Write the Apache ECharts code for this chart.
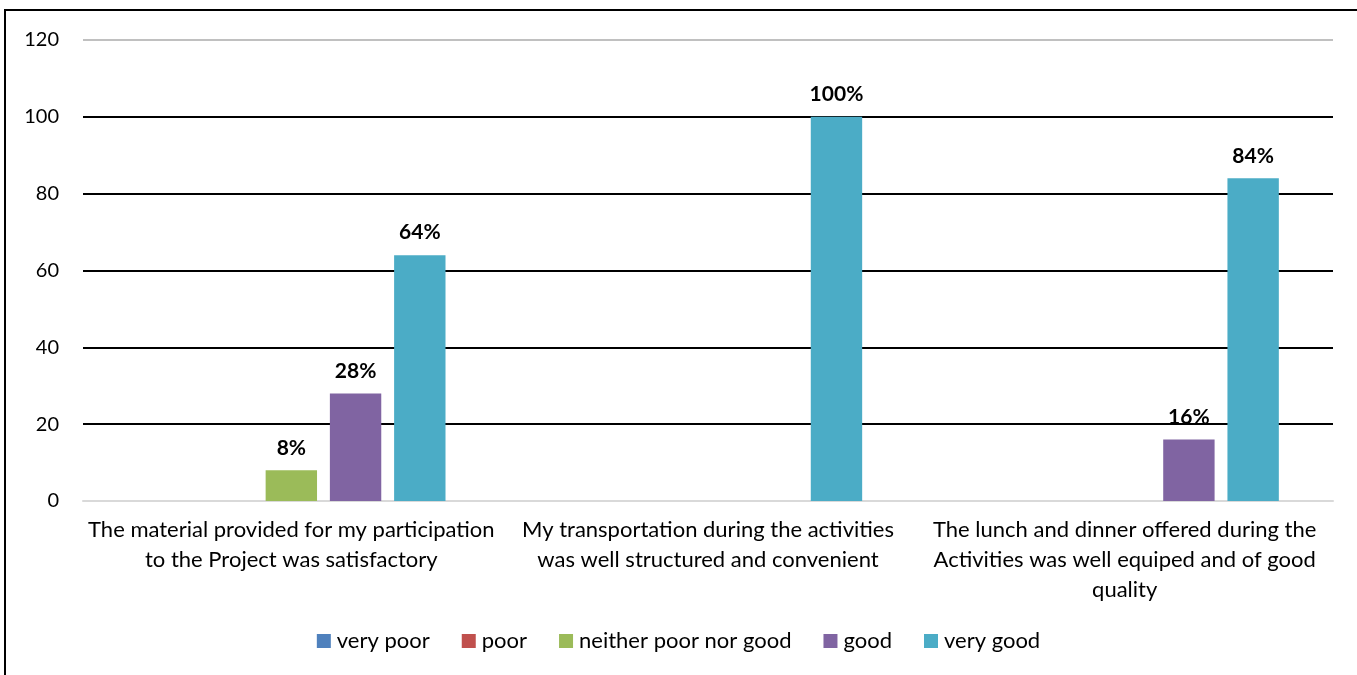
<!DOCTYPE html>
<html>
<head>
<meta charset="utf-8">
<script src="https://cdn.jsdelivr.net/npm/echarts@6/dist/echarts.min.js"></script>
<style>
  html, body { margin: 0; padding: 0; background: #fff; }
  #chart { width: 1357px; height: 675px; }
</style>
</head>
<body>
<div id="chart"></div>
<script>
const categories = [
  'The material provided for my participation\nto the Project was satisfactory',
  'My transportation during the activities\nwas well structured and convenient',
  'The lunch and dinner offered during the\nActivities was well equiped and of good\nquality'
];
const seriesNames = ['very poor', 'poor', 'neither poor nor good', 'good', 'very good'];
const veryPoor = [0, 0, 0];
const poor = [0, 0, 0];
const neither = [8, 0, 0];
const good = [28, 0, 16];
const veryGood = [64, 100, 84];
const colors = ['#4f81bd', '#c0504d', '#9bbb59', '#8064a2', '#4bacc6'];

const font = 'Lato, "Open Sans", sans-serif';
const chart = echarts.init(document.getElementById('chart'));

const makeSeries = (name, data, color) => ({
  name,
  type: 'bar',
  data,
  barGap: '25%',
  barCategoryGap: '26%',
  itemStyle: { color },
  label: {
    show: true,
    position: 'top',
    distance: 12,
    color: '#000',
    fontWeight: 'bold',
    fontSize: 21,
    fontFamily: font,
    formatter: p => (p.value ? `${p.value}%` : '')
  },
  emphasis: { disabled: true }
});

chart.setOption({
  animation: false,
  color: colors,
  graphic: [{
    type: 'rect',
    shape: { x: 5, y: 10, width: 1400, height: 700 },
    style: { fill: 'none', stroke: '#000', lineWidth: 2 },
    silent: true
  }],
  grid: { left: 83, right: 24, top: 40, bottom: 174 },
  legend: {
    bottom: 18,
    left: 'center',
    itemWidth: 14,
    itemHeight: 14,
    itemGap: 32,
    icon: 'rect',
    textStyle: { fontSize: 22, color: '#000', fontFamily: font, padding: [0, 0, 0, 1] },
    data: seriesNames
  },
  xAxis: {
    type: 'category',
    data: categories,
    axisTick: { show: false },
    axisLine: { lineStyle: { color: '#d9d9d9', width: 2 } },
    axisLabel: {
      color: '#000',
      fontSize: 22,
      fontFamily: font,
      lineHeight: 30,
      margin: 14,
      interval: 0
    }
  },
  yAxis: {
    type: 'value',
    min: 0,
    max: 120,
    interval: 20,
    axisLine: { show: false },
    axisTick: { show: false },
    axisLabel: { color: '#000', fontSize: 20, fontFamily: font, margin: 24 },
    splitLine: {
      lineStyle: {
        color: ['#d9d9d9', '#000', '#000', '#000', '#000', '#000', '#c0c0c0'],
        width: 2
      }
    }
  },
  series: [
    makeSeries(seriesNames[0], veryPoor, colors[0]),
    makeSeries(seriesNames[1], poor, colors[1]),
    makeSeries(seriesNames[2], neither, colors[2]),
    makeSeries(seriesNames[3], good, colors[3]),
    makeSeries(seriesNames[4], veryGood, colors[4])
  ]
});
</script>
</body>
</html>
